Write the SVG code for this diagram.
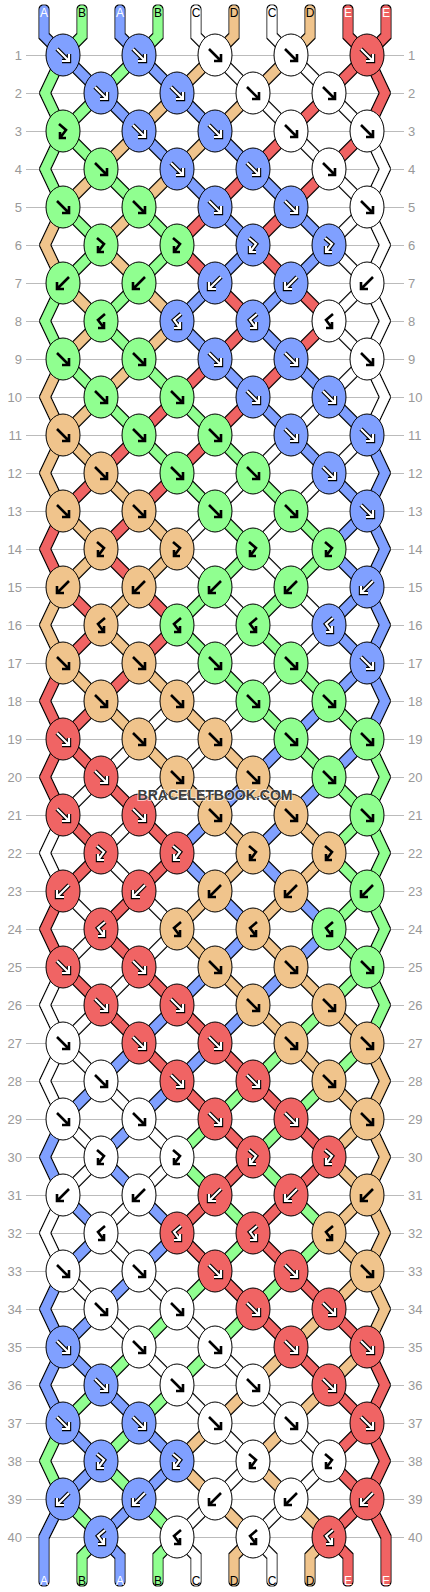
<svg xmlns="http://www.w3.org/2000/svg" xmlns:xlink="http://www.w3.org/1999/xlink" width="430" height="1592" viewBox="0 0 430 1592">
<style>
.ca{stroke:#80a0ff}.cb{stroke:#90ff90}.cc{stroke:#ffffff}.cd{stroke:#f0c48c}.ce{stroke:#f06464}
.na{fill:#80a0ff}.nb{fill:#90ff90}.nc{fill:#ffffff}.nd{fill:#f0c48c}.ne{fill:#f06464}
ellipse{stroke:#000;stroke-width:1}
.ib{fill:none;stroke:#000;stroke-width:2.6;stroke-linejoin:miter}
.io{fill:none;stroke:#000;stroke-width:4.4;stroke-linejoin:miter}
.iw{fill:none;stroke:#fff;stroke-width:2.2;stroke-linejoin:miter}
.ll{font-family:"Liberation Sans",Arial,sans-serif;font-size:13px;fill:#999;text-anchor:end}
.lr{font-family:"Liberation Sans",Arial,sans-serif;font-size:13px;fill:#999;text-anchor:start}
.sl{font-family:"Liberation Sans",Arial,sans-serif;font-size:12px;text-anchor:middle}
.tk{fill:#000}.tw{fill:#fff}
</style>
<defs>
<filter id="ol" filterUnits="userSpaceOnUse" x="0" y="0" width="430" height="1592">
<feMorphology in="SourceAlpha" operator="dilate" radius="1" result="d"/>
<feFlood flood-color="#000"/>
<feComposite in2="d" operator="in" result="o"/>
<feMerge><feMergeNode in="o"/><feMergeNode in="SourceGraphic"/></feMerge>
</filter>
<path id="iF" d="M-6-6L6 6M6-1V6H-1"/>
<path id="iB" d="M6-6L-6 6M-6-1V6H1"/>
<path id="iX" d="M-4-7L3-1L-3 7M-3 1V7H3"/>
<path id="iY" d="M4-7L-3-1L3 7M3 1V7H-3"/>
<g id="wF"><use href="#iF" class="io"/><use href="#iF" class="iw"/></g>
<g id="wB"><use href="#iB" class="io"/><use href="#iB" class="iw"/></g>
<g id="wX"><use href="#iX" class="io"/><use href="#iX" class="iw"/></g>
<g id="wY"><use href="#iY" class="io"/><use href="#iY" class="iw"/></g>
<g id="kF"><use href="#iF" class="ib"/></g>
<g id="kB"><use href="#iB" class="ib"/></g>
<g id="kX"><use href="#iX" class="ib"/></g>
<g id="kY"><use href="#iY" class="ib"/></g>
</defs>
<rect width="430" height="1592" fill="#fff"/>
<g id="grid" stroke="#bbb" stroke-width="1" fill="none">
<path d="M26 55.5H404M26 93.5H404M26 131.5H404M26 169.5H404M26 207.5H404M26 245.5H404M26 283.5H404M26 321.5H404M26 359.5H404M26 397.5H404M26 435.5H404M26 473.5H404M26 511.5H404M26 549.5H404M26 587.5H404M26 625.5H404M26 663.5H404M26 701.5H404M26 739.5H404M26 777.5H404M26 815.5H404M26 853.5H404M26 891.5H404M26 929.5H404M26 967.5H404M26 1005.5H404M26 1043.5H404M26 1081.5H404M26 1119.5H404M26 1157.5H404M26 1195.5H404M26 1233.5H404M26 1271.5H404M26 1309.5H404M26 1347.5H404M26 1385.5H404M26 1423.5H404M26 1461.5H404M26 1499.5H404M26 1537.5H404"/>
</g>
<g id="row-labels">
<text class="ll" x="22" y="59.5">1</text><text class="lr" x="408" y="59.5">1</text>
<text class="ll" x="22" y="97.5">2</text><text class="lr" x="408" y="97.5">2</text>
<text class="ll" x="22" y="135.5">3</text><text class="lr" x="408" y="135.5">3</text>
<text class="ll" x="22" y="173.5">4</text><text class="lr" x="408" y="173.5">4</text>
<text class="ll" x="22" y="211.5">5</text><text class="lr" x="408" y="211.5">5</text>
<text class="ll" x="22" y="249.5">6</text><text class="lr" x="408" y="249.5">6</text>
<text class="ll" x="22" y="287.5">7</text><text class="lr" x="408" y="287.5">7</text>
<text class="ll" x="22" y="325.5">8</text><text class="lr" x="408" y="325.5">8</text>
<text class="ll" x="22" y="363.5">9</text><text class="lr" x="408" y="363.5">9</text>
<text class="ll" x="22" y="401.5">10</text><text class="lr" x="408" y="401.5">10</text>
<text class="ll" x="22" y="439.5">11</text><text class="lr" x="408" y="439.5">11</text>
<text class="ll" x="22" y="477.5">12</text><text class="lr" x="408" y="477.5">12</text>
<text class="ll" x="22" y="515.5">13</text><text class="lr" x="408" y="515.5">13</text>
<text class="ll" x="22" y="553.5">14</text><text class="lr" x="408" y="553.5">14</text>
<text class="ll" x="22" y="591.5">15</text><text class="lr" x="408" y="591.5">15</text>
<text class="ll" x="22" y="629.5">16</text><text class="lr" x="408" y="629.5">16</text>
<text class="ll" x="22" y="667.5">17</text><text class="lr" x="408" y="667.5">17</text>
<text class="ll" x="22" y="705.5">18</text><text class="lr" x="408" y="705.5">18</text>
<text class="ll" x="22" y="743.5">19</text><text class="lr" x="408" y="743.5">19</text>
<text class="ll" x="22" y="781.5">20</text><text class="lr" x="408" y="781.5">20</text>
<text class="ll" x="22" y="819.5">21</text><text class="lr" x="408" y="819.5">21</text>
<text class="ll" x="22" y="857.5">22</text><text class="lr" x="408" y="857.5">22</text>
<text class="ll" x="22" y="895.5">23</text><text class="lr" x="408" y="895.5">23</text>
<text class="ll" x="22" y="933.5">24</text><text class="lr" x="408" y="933.5">24</text>
<text class="ll" x="22" y="971.5">25</text><text class="lr" x="408" y="971.5">25</text>
<text class="ll" x="22" y="1009.5">26</text><text class="lr" x="408" y="1009.5">26</text>
<text class="ll" x="22" y="1047.5">27</text><text class="lr" x="408" y="1047.5">27</text>
<text class="ll" x="22" y="1085.5">28</text><text class="lr" x="408" y="1085.5">28</text>
<text class="ll" x="22" y="1123.5">29</text><text class="lr" x="408" y="1123.5">29</text>
<text class="ll" x="22" y="1161.5">30</text><text class="lr" x="408" y="1161.5">30</text>
<text class="ll" x="22" y="1199.5">31</text><text class="lr" x="408" y="1199.5">31</text>
<text class="ll" x="22" y="1237.5">32</text><text class="lr" x="408" y="1237.5">32</text>
<text class="ll" x="22" y="1275.5">33</text><text class="lr" x="408" y="1275.5">33</text>
<text class="ll" x="22" y="1313.5">34</text><text class="lr" x="408" y="1313.5">34</text>
<text class="ll" x="22" y="1351.5">35</text><text class="lr" x="408" y="1351.5">35</text>
<text class="ll" x="22" y="1389.5">36</text><text class="lr" x="408" y="1389.5">36</text>
<text class="ll" x="22" y="1427.5">37</text><text class="lr" x="408" y="1427.5">37</text>
<text class="ll" x="22" y="1465.5">38</text><text class="lr" x="408" y="1465.5">38</text>
<text class="ll" x="22" y="1503.5">39</text><text class="lr" x="408" y="1503.5">39</text>
<text class="ll" x="22" y="1541.5">40</text><text class="lr" x="408" y="1541.5">40</text>
</g>
<g id="connectors" filter="url(#ol)" fill="none" stroke-width="9" stroke-linecap="round" stroke-linejoin="miter">
<path class="ca" d="M44 10L44 36L63 55"/><path class="cb" d="M82 10L82 36L63 55"/><path class="ca" d="M120 10L120 36L139 55"/><path class="cb" d="M158 10L158 36L139 55"/><path class="cc" d="M196 10L196 36L215 55"/><path class="cd" d="M234 10L234 36L215 55"/><path class="cc" d="M272 10L272 36L291 55"/><path class="cd" d="M310 10L310 36L291 55"/><path class="ce" d="M348 10L348 36L367 55"/><path class="ce" d="M386 10L386 36L367 55"/>
<path class="cb" d="M63 55L45 93L63 131"/><path class="ce" d="M367 55L385 93L367 131"/>
<path class="ca" d="M63 55L101 93"/><path class="cb" d="M139 55L101 93"/><path class="ca" d="M139 55L177 93"/><path class="cd" d="M215 55L177 93"/><path class="cc" d="M215 55L253 93"/><path class="cd" d="M291 55L253 93"/><path class="cc" d="M291 55L329 93"/><path class="ce" d="M367 55L329 93"/>
<path class="cb" d="M101 93L63 131"/><path class="ca" d="M101 93L139 131"/><path class="cd" d="M177 93L139 131"/><path class="ca" d="M177 93L215 131"/><path class="cd" d="M253 93L215 131"/><path class="cc" d="M253 93L291 131"/><path class="ce" d="M329 93L291 131"/><path class="cc" d="M329 93L367 131"/>
<path class="cb" d="M63 131L45 169L63 207"/><path class="cc" d="M367 131L385 169L367 207"/>
<path class="cb" d="M63 131L101 169"/><path class="cd" d="M139 131L101 169"/><path class="ca" d="M139 131L177 169"/><path class="cd" d="M215 131L177 169"/><path class="ca" d="M215 131L253 169"/><path class="ce" d="M291 131L253 169"/><path class="cc" d="M291 131L329 169"/><path class="ce" d="M367 131L329 169"/>
<path class="cd" d="M101 169L63 207"/><path class="cb" d="M101 169L139 207"/><path class="cd" d="M177 169L139 207"/><path class="ca" d="M177 169L215 207"/><path class="ce" d="M253 169L215 207"/><path class="ca" d="M253 169L291 207"/><path class="ce" d="M329 169L291 207"/><path class="cc" d="M329 169L367 207"/>
<path class="cd" d="M63 207L45 245L63 283"/><path class="cc" d="M367 207L385 245L367 283"/>
<path class="cb" d="M63 207L101 245"/><path class="cd" d="M139 207L101 245"/><path class="cb" d="M139 207L177 245"/><path class="ce" d="M215 207L177 245"/><path class="ca" d="M215 207L253 245"/><path class="ce" d="M291 207L253 245"/><path class="ca" d="M291 207L329 245"/><path class="cc" d="M367 207L329 245"/>
<path class="cb" d="M101 245L63 283"/><path class="cd" d="M101 245L139 283"/><path class="cb" d="M177 245L139 283"/><path class="ce" d="M177 245L215 283"/><path class="ca" d="M253 245L215 283"/><path class="ce" d="M253 245L291 283"/><path class="ca" d="M329 245L291 283"/><path class="cc" d="M329 245L367 283"/>
<path class="cb" d="M63 283L45 321L63 359"/><path class="cc" d="M367 283L385 321L367 359"/>
<path class="cd" d="M63 283L101 321"/><path class="cb" d="M139 283L101 321"/><path class="cd" d="M139 283L177 321"/><path class="ca" d="M215 283L177 321"/><path class="ce" d="M215 283L253 321"/><path class="ca" d="M291 283L253 321"/><path class="ce" d="M291 283L329 321"/><path class="cc" d="M367 283L329 321"/>
<path class="cd" d="M101 321L63 359"/><path class="cb" d="M101 321L139 359"/><path class="cd" d="M177 321L139 359"/><path class="ca" d="M177 321L215 359"/><path class="ce" d="M253 321L215 359"/><path class="ca" d="M253 321L291 359"/><path class="ce" d="M329 321L291 359"/><path class="cc" d="M329 321L367 359"/>
<path class="cd" d="M63 359L45 397L63 435"/><path class="cc" d="M367 359L385 397L367 435"/>
<path class="cb" d="M63 359L101 397"/><path class="cd" d="M139 359L101 397"/><path class="cb" d="M139 359L177 397"/><path class="ce" d="M215 359L177 397"/><path class="ca" d="M215 359L253 397"/><path class="ce" d="M291 359L253 397"/><path class="ca" d="M291 359L329 397"/><path class="cc" d="M367 359L329 397"/>
<path class="cd" d="M101 397L63 435"/><path class="cb" d="M101 397L139 435"/><path class="ce" d="M177 397L139 435"/><path class="cb" d="M177 397L215 435"/><path class="ce" d="M253 397L215 435"/><path class="ca" d="M253 397L291 435"/><path class="cc" d="M329 397L291 435"/><path class="ca" d="M329 397L367 435"/>
<path class="cd" d="M63 435L45 473L63 511"/><path class="ca" d="M367 435L385 473L367 511"/>
<path class="cd" d="M63 435L101 473"/><path class="ce" d="M139 435L101 473"/><path class="cb" d="M139 435L177 473"/><path class="ce" d="M215 435L177 473"/><path class="cb" d="M215 435L253 473"/><path class="cc" d="M291 435L253 473"/><path class="ca" d="M291 435L329 473"/><path class="cc" d="M367 435L329 473"/>
<path class="ce" d="M101 473L63 511"/><path class="cd" d="M101 473L139 511"/><path class="ce" d="M177 473L139 511"/><path class="cb" d="M177 473L215 511"/><path class="cc" d="M253 473L215 511"/><path class="cb" d="M253 473L291 511"/><path class="cc" d="M329 473L291 511"/><path class="ca" d="M329 473L367 511"/>
<path class="ce" d="M63 511L45 549L63 587"/><path class="ca" d="M367 511L385 549L367 587"/>
<path class="cd" d="M63 511L101 549"/><path class="ce" d="M139 511L101 549"/><path class="cd" d="M139 511L177 549"/><path class="cc" d="M215 511L177 549"/><path class="cb" d="M215 511L253 549"/><path class="cc" d="M291 511L253 549"/><path class="cb" d="M291 511L329 549"/><path class="ca" d="M367 511L329 549"/>
<path class="cd" d="M101 549L63 587"/><path class="ce" d="M101 549L139 587"/><path class="cd" d="M177 549L139 587"/><path class="cc" d="M177 549L215 587"/><path class="cb" d="M253 549L215 587"/><path class="cc" d="M253 549L291 587"/><path class="cb" d="M329 549L291 587"/><path class="ca" d="M329 549L367 587"/>
<path class="cd" d="M63 587L45 625L63 663"/><path class="ca" d="M367 587L385 625L367 663"/>
<path class="ce" d="M63 587L101 625"/><path class="cd" d="M139 587L101 625"/><path class="ce" d="M139 587L177 625"/><path class="cb" d="M215 587L177 625"/><path class="cc" d="M215 587L253 625"/><path class="cb" d="M291 587L253 625"/><path class="cc" d="M291 587L329 625"/><path class="ca" d="M367 587L329 625"/>
<path class="ce" d="M101 625L63 663"/><path class="cd" d="M101 625L139 663"/><path class="ce" d="M177 625L139 663"/><path class="cb" d="M177 625L215 663"/><path class="cc" d="M253 625L215 663"/><path class="cb" d="M253 625L291 663"/><path class="cc" d="M329 625L291 663"/><path class="ca" d="M329 625L367 663"/>
<path class="ce" d="M63 663L45 701L63 739"/><path class="ca" d="M367 663L385 701L367 739"/>
<path class="cd" d="M63 663L101 701"/><path class="ce" d="M139 663L101 701"/><path class="cd" d="M139 663L177 701"/><path class="cc" d="M215 663L177 701"/><path class="cb" d="M215 663L253 701"/><path class="cc" d="M291 663L253 701"/><path class="cb" d="M291 663L329 701"/><path class="ca" d="M367 663L329 701"/>
<path class="ce" d="M101 701L63 739"/><path class="cd" d="M101 701L139 739"/><path class="cc" d="M177 701L139 739"/><path class="cd" d="M177 701L215 739"/><path class="cc" d="M253 701L215 739"/><path class="cb" d="M253 701L291 739"/><path class="ca" d="M329 701L291 739"/><path class="cb" d="M329 701L367 739"/>
<path class="ce" d="M63 739L45 777L63 815"/><path class="cb" d="M367 739L385 777L367 815"/>
<path class="ce" d="M63 739L101 777"/><path class="cc" d="M139 739L101 777"/><path class="cd" d="M139 739L177 777"/><path class="cc" d="M215 739L177 777"/><path class="cd" d="M215 739L253 777"/><path class="ca" d="M291 739L253 777"/><path class="cb" d="M291 739L329 777"/><path class="ca" d="M367 739L329 777"/>
<path class="cc" d="M101 777L63 815"/><path class="ce" d="M101 777L139 815"/><path class="cc" d="M177 777L139 815"/><path class="cd" d="M177 777L215 815"/><path class="ca" d="M253 777L215 815"/><path class="cd" d="M253 777L291 815"/><path class="ca" d="M329 777L291 815"/><path class="cb" d="M329 777L367 815"/>
<path class="cc" d="M63 815L45 853L63 891"/><path class="cb" d="M367 815L385 853L367 891"/>
<path class="ce" d="M63 815L101 853"/><path class="cc" d="M139 815L101 853"/><path class="ce" d="M139 815L177 853"/><path class="ca" d="M215 815L177 853"/><path class="cd" d="M215 815L253 853"/><path class="ca" d="M291 815L253 853"/><path class="cd" d="M291 815L329 853"/><path class="cb" d="M367 815L329 853"/>
<path class="ce" d="M101 853L63 891"/><path class="cc" d="M101 853L139 891"/><path class="ce" d="M177 853L139 891"/><path class="ca" d="M177 853L215 891"/><path class="cd" d="M253 853L215 891"/><path class="ca" d="M253 853L291 891"/><path class="cd" d="M329 853L291 891"/><path class="cb" d="M329 853L367 891"/>
<path class="ce" d="M63 891L45 929L63 967"/><path class="cb" d="M367 891L385 929L367 967"/>
<path class="cc" d="M63 891L101 929"/><path class="ce" d="M139 891L101 929"/><path class="cc" d="M139 891L177 929"/><path class="cd" d="M215 891L177 929"/><path class="ca" d="M215 891L253 929"/><path class="cd" d="M291 891L253 929"/><path class="ca" d="M291 891L329 929"/><path class="cb" d="M367 891L329 929"/>
<path class="cc" d="M101 929L63 967"/><path class="ce" d="M101 929L139 967"/><path class="cc" d="M177 929L139 967"/><path class="cd" d="M177 929L215 967"/><path class="ca" d="M253 929L215 967"/><path class="cd" d="M253 929L291 967"/><path class="ca" d="M329 929L291 967"/><path class="cb" d="M329 929L367 967"/>
<path class="cc" d="M63 967L45 1005L63 1043"/><path class="cb" d="M367 967L385 1005L367 1043"/>
<path class="ce" d="M63 967L101 1005"/><path class="cc" d="M139 967L101 1005"/><path class="ce" d="M139 967L177 1005"/><path class="ca" d="M215 967L177 1005"/><path class="cd" d="M215 967L253 1005"/><path class="ca" d="M291 967L253 1005"/><path class="cd" d="M291 967L329 1005"/><path class="cb" d="M367 967L329 1005"/>
<path class="cc" d="M101 1005L63 1043"/><path class="ce" d="M101 1005L139 1043"/><path class="ca" d="M177 1005L139 1043"/><path class="ce" d="M177 1005L215 1043"/><path class="ca" d="M253 1005L215 1043"/><path class="cd" d="M253 1005L291 1043"/><path class="cb" d="M329 1005L291 1043"/><path class="cd" d="M329 1005L367 1043"/>
<path class="cc" d="M63 1043L45 1081L63 1119"/><path class="cd" d="M367 1043L385 1081L367 1119"/>
<path class="cc" d="M63 1043L101 1081"/><path class="ca" d="M139 1043L101 1081"/><path class="ce" d="M139 1043L177 1081"/><path class="ca" d="M215 1043L177 1081"/><path class="ce" d="M215 1043L253 1081"/><path class="cb" d="M291 1043L253 1081"/><path class="cd" d="M291 1043L329 1081"/><path class="cb" d="M367 1043L329 1081"/>
<path class="ca" d="M101 1081L63 1119"/><path class="cc" d="M101 1081L139 1119"/><path class="ca" d="M177 1081L139 1119"/><path class="ce" d="M177 1081L215 1119"/><path class="cb" d="M253 1081L215 1119"/><path class="ce" d="M253 1081L291 1119"/><path class="cb" d="M329 1081L291 1119"/><path class="cd" d="M329 1081L367 1119"/>
<path class="ca" d="M63 1119L45 1157L63 1195"/><path class="cd" d="M367 1119L385 1157L367 1195"/>
<path class="cc" d="M63 1119L101 1157"/><path class="ca" d="M139 1119L101 1157"/><path class="cc" d="M139 1119L177 1157"/><path class="cb" d="M215 1119L177 1157"/><path class="ce" d="M215 1119L253 1157"/><path class="cb" d="M291 1119L253 1157"/><path class="ce" d="M291 1119L329 1157"/><path class="cd" d="M367 1119L329 1157"/>
<path class="cc" d="M101 1157L63 1195"/><path class="ca" d="M101 1157L139 1195"/><path class="cc" d="M177 1157L139 1195"/><path class="cb" d="M177 1157L215 1195"/><path class="ce" d="M253 1157L215 1195"/><path class="cb" d="M253 1157L291 1195"/><path class="ce" d="M329 1157L291 1195"/><path class="cd" d="M329 1157L367 1195"/>
<path class="cc" d="M63 1195L45 1233L63 1271"/><path class="cd" d="M367 1195L385 1233L367 1271"/>
<path class="ca" d="M63 1195L101 1233"/><path class="cc" d="M139 1195L101 1233"/><path class="ca" d="M139 1195L177 1233"/><path class="ce" d="M215 1195L177 1233"/><path class="cb" d="M215 1195L253 1233"/><path class="ce" d="M291 1195L253 1233"/><path class="cb" d="M291 1195L329 1233"/><path class="cd" d="M367 1195L329 1233"/>
<path class="ca" d="M101 1233L63 1271"/><path class="cc" d="M101 1233L139 1271"/><path class="ca" d="M177 1233L139 1271"/><path class="ce" d="M177 1233L215 1271"/><path class="cb" d="M253 1233L215 1271"/><path class="ce" d="M253 1233L291 1271"/><path class="cb" d="M329 1233L291 1271"/><path class="cd" d="M329 1233L367 1271"/>
<path class="ca" d="M63 1271L45 1309L63 1347"/><path class="cd" d="M367 1271L385 1309L367 1347"/>
<path class="cc" d="M63 1271L101 1309"/><path class="ca" d="M139 1271L101 1309"/><path class="cc" d="M139 1271L177 1309"/><path class="cb" d="M215 1271L177 1309"/><path class="ce" d="M215 1271L253 1309"/><path class="cb" d="M291 1271L253 1309"/><path class="ce" d="M291 1271L329 1309"/><path class="cd" d="M367 1271L329 1309"/>
<path class="ca" d="M101 1309L63 1347"/><path class="cc" d="M101 1309L139 1347"/><path class="cb" d="M177 1309L139 1347"/><path class="cc" d="M177 1309L215 1347"/><path class="cb" d="M253 1309L215 1347"/><path class="ce" d="M253 1309L291 1347"/><path class="cd" d="M329 1309L291 1347"/><path class="ce" d="M329 1309L367 1347"/>
<path class="ca" d="M63 1347L45 1385L63 1423"/><path class="ce" d="M367 1347L385 1385L367 1423"/>
<path class="ca" d="M63 1347L101 1385"/><path class="cb" d="M139 1347L101 1385"/><path class="cc" d="M139 1347L177 1385"/><path class="cb" d="M215 1347L177 1385"/><path class="cc" d="M215 1347L253 1385"/><path class="cd" d="M291 1347L253 1385"/><path class="ce" d="M291 1347L329 1385"/><path class="cd" d="M367 1347L329 1385"/>
<path class="cb" d="M101 1385L63 1423"/><path class="ca" d="M101 1385L139 1423"/><path class="cb" d="M177 1385L139 1423"/><path class="cc" d="M177 1385L215 1423"/><path class="cd" d="M253 1385L215 1423"/><path class="cc" d="M253 1385L291 1423"/><path class="cd" d="M329 1385L291 1423"/><path class="ce" d="M329 1385L367 1423"/>
<path class="cb" d="M63 1423L45 1461L63 1499"/><path class="ce" d="M367 1423L385 1461L367 1499"/>
<path class="ca" d="M63 1423L101 1461"/><path class="cb" d="M139 1423L101 1461"/><path class="ca" d="M139 1423L177 1461"/><path class="cd" d="M215 1423L177 1461"/><path class="cc" d="M215 1423L253 1461"/><path class="cd" d="M291 1423L253 1461"/><path class="cc" d="M291 1423L329 1461"/><path class="ce" d="M367 1423L329 1461"/>
<path class="ca" d="M101 1461L63 1499"/><path class="cb" d="M101 1461L139 1499"/><path class="ca" d="M177 1461L139 1499"/><path class="cd" d="M177 1461L215 1499"/><path class="cc" d="M253 1461L215 1499"/><path class="cd" d="M253 1461L291 1499"/><path class="cc" d="M329 1461L291 1499"/><path class="ce" d="M329 1461L367 1499"/>
<path class="ca" d="M63 1499L44 1537L44 1581"/><path class="ce" d="M367 1499L386 1537L386 1581"/>
<path class="cb" d="M63 1499L101 1537"/><path class="ca" d="M139 1499L101 1537"/><path class="cb" d="M139 1499L177 1537"/><path class="cc" d="M215 1499L177 1537"/><path class="cd" d="M215 1499L253 1537"/><path class="cc" d="M291 1499L253 1537"/><path class="cd" d="M291 1499L329 1537"/><path class="ce" d="M367 1499L329 1537"/>
<path class="cb" d="M101 1537L82 1556L82 1581"/><path class="ca" d="M101 1537L120 1556L120 1581"/><path class="cb" d="M177 1537L158 1556L158 1581"/><path class="cc" d="M177 1537L196 1556L196 1581"/><path class="cd" d="M253 1537L234 1556L234 1581"/><path class="cc" d="M253 1537L272 1556L272 1581"/><path class="cd" d="M329 1537L310 1556L310 1581"/><path class="ce" d="M329 1537L348 1556L348 1581"/>
</g>
<g id="string-labels">
<text class="sl tw" x="44" y="16.5">A</text><text class="sl tk" x="82" y="16.5">B</text><text class="sl tw" x="120" y="16.5">A</text><text class="sl tk" x="158" y="16.5">B</text><text class="sl tk" x="196" y="16.5">C</text><text class="sl tk" x="234" y="16.5">D</text><text class="sl tk" x="272" y="16.5">C</text><text class="sl tk" x="310" y="16.5">D</text><text class="sl tw" x="348" y="16.5">E</text><text class="sl tw" x="386" y="16.5">E</text>
<text class="sl tw" x="44" y="1585">A</text><text class="sl tk" x="82" y="1585">B</text><text class="sl tw" x="120" y="1585">A</text><text class="sl tk" x="158" y="1585">B</text><text class="sl tk" x="196" y="1585">C</text><text class="sl tk" x="234" y="1585">D</text><text class="sl tk" x="272" y="1585">C</text><text class="sl tk" x="310" y="1585">D</text><text class="sl tw" x="348" y="1585">E</text><text class="sl tw" x="386" y="1585">E</text>
</g>
<g id="knots">
<g id="k1-1" transform="translate(63 55)"><ellipse class="na" rx="17" ry="21"/><use href="#wF"/></g>
<g id="k1-2" transform="translate(139 55)"><ellipse class="na" rx="17" ry="21"/><use href="#wF"/></g>
<g id="k1-3" transform="translate(215 55)"><ellipse class="nc" rx="17" ry="21"/><use href="#kF"/></g>
<g id="k1-4" transform="translate(291 55)"><ellipse class="nc" rx="17" ry="21"/><use href="#kF"/></g>
<g id="k1-5" transform="translate(367 55)"><ellipse class="ne" rx="17" ry="21"/><use href="#wF"/></g>
<g id="k2-1" transform="translate(101 93)"><ellipse class="na" rx="17" ry="21"/><use href="#wF"/></g>
<g id="k2-2" transform="translate(177 93)"><ellipse class="na" rx="17" ry="21"/><use href="#wF"/></g>
<g id="k2-3" transform="translate(253 93)"><ellipse class="nc" rx="17" ry="21"/><use href="#kF"/></g>
<g id="k2-4" transform="translate(329 93)"><ellipse class="nc" rx="17" ry="21"/><use href="#kF"/></g>
<g id="k3-1" transform="translate(63 131)"><ellipse class="nb" rx="17" ry="21"/><use href="#kX"/></g>
<g id="k3-2" transform="translate(139 131)"><ellipse class="na" rx="17" ry="21"/><use href="#wF"/></g>
<g id="k3-3" transform="translate(215 131)"><ellipse class="na" rx="17" ry="21"/><use href="#wF"/></g>
<g id="k3-4" transform="translate(291 131)"><ellipse class="nc" rx="17" ry="21"/><use href="#kF"/></g>
<g id="k3-5" transform="translate(367 131)"><ellipse class="nc" rx="17" ry="21"/><use href="#kF"/></g>
<g id="k4-1" transform="translate(101 169)"><ellipse class="nb" rx="17" ry="21"/><use href="#kF"/></g>
<g id="k4-2" transform="translate(177 169)"><ellipse class="na" rx="17" ry="21"/><use href="#wF"/></g>
<g id="k4-3" transform="translate(253 169)"><ellipse class="na" rx="17" ry="21"/><use href="#wF"/></g>
<g id="k4-4" transform="translate(329 169)"><ellipse class="nc" rx="17" ry="21"/><use href="#kF"/></g>
<g id="k5-1" transform="translate(63 207)"><ellipse class="nb" rx="17" ry="21"/><use href="#kF"/></g>
<g id="k5-2" transform="translate(139 207)"><ellipse class="nb" rx="17" ry="21"/><use href="#kF"/></g>
<g id="k5-3" transform="translate(215 207)"><ellipse class="na" rx="17" ry="21"/><use href="#wF"/></g>
<g id="k5-4" transform="translate(291 207)"><ellipse class="na" rx="17" ry="21"/><use href="#wF"/></g>
<g id="k5-5" transform="translate(367 207)"><ellipse class="nc" rx="17" ry="21"/><use href="#kF"/></g>
<g id="k6-1" transform="translate(101 245)"><ellipse class="nb" rx="17" ry="21"/><use href="#kX"/></g>
<g id="k6-2" transform="translate(177 245)"><ellipse class="nb" rx="17" ry="21"/><use href="#kX"/></g>
<g id="k6-3" transform="translate(253 245)"><ellipse class="na" rx="17" ry="21"/><use href="#wX"/></g>
<g id="k6-4" transform="translate(329 245)"><ellipse class="na" rx="17" ry="21"/><use href="#wX"/></g>
<g id="k7-1" transform="translate(63 283)"><ellipse class="nb" rx="17" ry="21"/><use href="#kB"/></g>
<g id="k7-2" transform="translate(139 283)"><ellipse class="nb" rx="17" ry="21"/><use href="#kB"/></g>
<g id="k7-3" transform="translate(215 283)"><ellipse class="na" rx="17" ry="21"/><use href="#wB"/></g>
<g id="k7-4" transform="translate(291 283)"><ellipse class="na" rx="17" ry="21"/><use href="#wB"/></g>
<g id="k7-5" transform="translate(367 283)"><ellipse class="nc" rx="17" ry="21"/><use href="#kB"/></g>
<g id="k8-1" transform="translate(101 321)"><ellipse class="nb" rx="17" ry="21"/><use href="#kY"/></g>
<g id="k8-2" transform="translate(177 321)"><ellipse class="na" rx="17" ry="21"/><use href="#wY"/></g>
<g id="k8-3" transform="translate(253 321)"><ellipse class="na" rx="17" ry="21"/><use href="#wY"/></g>
<g id="k8-4" transform="translate(329 321)"><ellipse class="nc" rx="17" ry="21"/><use href="#kY"/></g>
<g id="k9-1" transform="translate(63 359)"><ellipse class="nb" rx="17" ry="21"/><use href="#kF"/></g>
<g id="k9-2" transform="translate(139 359)"><ellipse class="nb" rx="17" ry="21"/><use href="#kF"/></g>
<g id="k9-3" transform="translate(215 359)"><ellipse class="na" rx="17" ry="21"/><use href="#wF"/></g>
<g id="k9-4" transform="translate(291 359)"><ellipse class="na" rx="17" ry="21"/><use href="#wF"/></g>
<g id="k9-5" transform="translate(367 359)"><ellipse class="nc" rx="17" ry="21"/><use href="#kF"/></g>
<g id="k10-1" transform="translate(101 397)"><ellipse class="nb" rx="17" ry="21"/><use href="#kF"/></g>
<g id="k10-2" transform="translate(177 397)"><ellipse class="nb" rx="17" ry="21"/><use href="#kF"/></g>
<g id="k10-3" transform="translate(253 397)"><ellipse class="na" rx="17" ry="21"/><use href="#wF"/></g>
<g id="k10-4" transform="translate(329 397)"><ellipse class="na" rx="17" ry="21"/><use href="#wF"/></g>
<g id="k11-1" transform="translate(63 435)"><ellipse class="nd" rx="17" ry="21"/><use href="#kF"/></g>
<g id="k11-2" transform="translate(139 435)"><ellipse class="nb" rx="17" ry="21"/><use href="#kF"/></g>
<g id="k11-3" transform="translate(215 435)"><ellipse class="nb" rx="17" ry="21"/><use href="#kF"/></g>
<g id="k11-4" transform="translate(291 435)"><ellipse class="na" rx="17" ry="21"/><use href="#wF"/></g>
<g id="k11-5" transform="translate(367 435)"><ellipse class="na" rx="17" ry="21"/><use href="#wF"/></g>
<g id="k12-1" transform="translate(101 473)"><ellipse class="nd" rx="17" ry="21"/><use href="#kF"/></g>
<g id="k12-2" transform="translate(177 473)"><ellipse class="nb" rx="17" ry="21"/><use href="#kF"/></g>
<g id="k12-3" transform="translate(253 473)"><ellipse class="nb" rx="17" ry="21"/><use href="#kF"/></g>
<g id="k12-4" transform="translate(329 473)"><ellipse class="na" rx="17" ry="21"/><use href="#wF"/></g>
<g id="k13-1" transform="translate(63 511)"><ellipse class="nd" rx="17" ry="21"/><use href="#kF"/></g>
<g id="k13-2" transform="translate(139 511)"><ellipse class="nd" rx="17" ry="21"/><use href="#kF"/></g>
<g id="k13-3" transform="translate(215 511)"><ellipse class="nb" rx="17" ry="21"/><use href="#kF"/></g>
<g id="k13-4" transform="translate(291 511)"><ellipse class="nb" rx="17" ry="21"/><use href="#kF"/></g>
<g id="k13-5" transform="translate(367 511)"><ellipse class="na" rx="17" ry="21"/><use href="#wF"/></g>
<g id="k14-1" transform="translate(101 549)"><ellipse class="nd" rx="17" ry="21"/><use href="#kX"/></g>
<g id="k14-2" transform="translate(177 549)"><ellipse class="nd" rx="17" ry="21"/><use href="#kX"/></g>
<g id="k14-3" transform="translate(253 549)"><ellipse class="nb" rx="17" ry="21"/><use href="#kX"/></g>
<g id="k14-4" transform="translate(329 549)"><ellipse class="nb" rx="17" ry="21"/><use href="#kX"/></g>
<g id="k15-1" transform="translate(63 587)"><ellipse class="nd" rx="17" ry="21"/><use href="#kB"/></g>
<g id="k15-2" transform="translate(139 587)"><ellipse class="nd" rx="17" ry="21"/><use href="#kB"/></g>
<g id="k15-3" transform="translate(215 587)"><ellipse class="nb" rx="17" ry="21"/><use href="#kB"/></g>
<g id="k15-4" transform="translate(291 587)"><ellipse class="nb" rx="17" ry="21"/><use href="#kB"/></g>
<g id="k15-5" transform="translate(367 587)"><ellipse class="na" rx="17" ry="21"/><use href="#wB"/></g>
<g id="k16-1" transform="translate(101 625)"><ellipse class="nd" rx="17" ry="21"/><use href="#kY"/></g>
<g id="k16-2" transform="translate(177 625)"><ellipse class="nb" rx="17" ry="21"/><use href="#kY"/></g>
<g id="k16-3" transform="translate(253 625)"><ellipse class="nb" rx="17" ry="21"/><use href="#kY"/></g>
<g id="k16-4" transform="translate(329 625)"><ellipse class="na" rx="17" ry="21"/><use href="#wY"/></g>
<g id="k17-1" transform="translate(63 663)"><ellipse class="nd" rx="17" ry="21"/><use href="#kF"/></g>
<g id="k17-2" transform="translate(139 663)"><ellipse class="nd" rx="17" ry="21"/><use href="#kF"/></g>
<g id="k17-3" transform="translate(215 663)"><ellipse class="nb" rx="17" ry="21"/><use href="#kF"/></g>
<g id="k17-4" transform="translate(291 663)"><ellipse class="nb" rx="17" ry="21"/><use href="#kF"/></g>
<g id="k17-5" transform="translate(367 663)"><ellipse class="na" rx="17" ry="21"/><use href="#wF"/></g>
<g id="k18-1" transform="translate(101 701)"><ellipse class="nd" rx="17" ry="21"/><use href="#kF"/></g>
<g id="k18-2" transform="translate(177 701)"><ellipse class="nd" rx="17" ry="21"/><use href="#kF"/></g>
<g id="k18-3" transform="translate(253 701)"><ellipse class="nb" rx="17" ry="21"/><use href="#kF"/></g>
<g id="k18-4" transform="translate(329 701)"><ellipse class="nb" rx="17" ry="21"/><use href="#kF"/></g>
<g id="k19-1" transform="translate(63 739)"><ellipse class="ne" rx="17" ry="21"/><use href="#wF"/></g>
<g id="k19-2" transform="translate(139 739)"><ellipse class="nd" rx="17" ry="21"/><use href="#kF"/></g>
<g id="k19-3" transform="translate(215 739)"><ellipse class="nd" rx="17" ry="21"/><use href="#kF"/></g>
<g id="k19-4" transform="translate(291 739)"><ellipse class="nb" rx="17" ry="21"/><use href="#kF"/></g>
<g id="k19-5" transform="translate(367 739)"><ellipse class="nb" rx="17" ry="21"/><use href="#kF"/></g>
<g id="k20-1" transform="translate(101 777)"><ellipse class="ne" rx="17" ry="21"/><use href="#wF"/></g>
<g id="k20-2" transform="translate(177 777)"><ellipse class="nd" rx="17" ry="21"/><use href="#kF"/></g>
<g id="k20-3" transform="translate(253 777)"><ellipse class="nd" rx="17" ry="21"/><use href="#kF"/></g>
<g id="k20-4" transform="translate(329 777)"><ellipse class="nb" rx="17" ry="21"/><use href="#kF"/></g>
<g id="k21-1" transform="translate(63 815)"><ellipse class="ne" rx="17" ry="21"/><use href="#wF"/></g>
<g id="k21-2" transform="translate(139 815)"><ellipse class="ne" rx="17" ry="21"/><use href="#wF"/></g>
<g id="k21-3" transform="translate(215 815)"><ellipse class="nd" rx="17" ry="21"/><use href="#kF"/></g>
<g id="k21-4" transform="translate(291 815)"><ellipse class="nd" rx="17" ry="21"/><use href="#kF"/></g>
<g id="k21-5" transform="translate(367 815)"><ellipse class="nb" rx="17" ry="21"/><use href="#kF"/></g>
<g id="k22-1" transform="translate(101 853)"><ellipse class="ne" rx="17" ry="21"/><use href="#wX"/></g>
<g id="k22-2" transform="translate(177 853)"><ellipse class="ne" rx="17" ry="21"/><use href="#wX"/></g>
<g id="k22-3" transform="translate(253 853)"><ellipse class="nd" rx="17" ry="21"/><use href="#kX"/></g>
<g id="k22-4" transform="translate(329 853)"><ellipse class="nd" rx="17" ry="21"/><use href="#kX"/></g>
<g id="k23-1" transform="translate(63 891)"><ellipse class="ne" rx="17" ry="21"/><use href="#wB"/></g>
<g id="k23-2" transform="translate(139 891)"><ellipse class="ne" rx="17" ry="21"/><use href="#wB"/></g>
<g id="k23-3" transform="translate(215 891)"><ellipse class="nd" rx="17" ry="21"/><use href="#kB"/></g>
<g id="k23-4" transform="translate(291 891)"><ellipse class="nd" rx="17" ry="21"/><use href="#kB"/></g>
<g id="k23-5" transform="translate(367 891)"><ellipse class="nb" rx="17" ry="21"/><use href="#kB"/></g>
<g id="k24-1" transform="translate(101 929)"><ellipse class="ne" rx="17" ry="21"/><use href="#wY"/></g>
<g id="k24-2" transform="translate(177 929)"><ellipse class="nd" rx="17" ry="21"/><use href="#kY"/></g>
<g id="k24-3" transform="translate(253 929)"><ellipse class="nd" rx="17" ry="21"/><use href="#kY"/></g>
<g id="k24-4" transform="translate(329 929)"><ellipse class="nb" rx="17" ry="21"/><use href="#kY"/></g>
<g id="k25-1" transform="translate(63 967)"><ellipse class="ne" rx="17" ry="21"/><use href="#wF"/></g>
<g id="k25-2" transform="translate(139 967)"><ellipse class="ne" rx="17" ry="21"/><use href="#wF"/></g>
<g id="k25-3" transform="translate(215 967)"><ellipse class="nd" rx="17" ry="21"/><use href="#kF"/></g>
<g id="k25-4" transform="translate(291 967)"><ellipse class="nd" rx="17" ry="21"/><use href="#kF"/></g>
<g id="k25-5" transform="translate(367 967)"><ellipse class="nb" rx="17" ry="21"/><use href="#kF"/></g>
<g id="k26-1" transform="translate(101 1005)"><ellipse class="ne" rx="17" ry="21"/><use href="#wF"/></g>
<g id="k26-2" transform="translate(177 1005)"><ellipse class="ne" rx="17" ry="21"/><use href="#wF"/></g>
<g id="k26-3" transform="translate(253 1005)"><ellipse class="nd" rx="17" ry="21"/><use href="#kF"/></g>
<g id="k26-4" transform="translate(329 1005)"><ellipse class="nd" rx="17" ry="21"/><use href="#kF"/></g>
<g id="k27-1" transform="translate(63 1043)"><ellipse class="nc" rx="17" ry="21"/><use href="#kF"/></g>
<g id="k27-2" transform="translate(139 1043)"><ellipse class="ne" rx="17" ry="21"/><use href="#wF"/></g>
<g id="k27-3" transform="translate(215 1043)"><ellipse class="ne" rx="17" ry="21"/><use href="#wF"/></g>
<g id="k27-4" transform="translate(291 1043)"><ellipse class="nd" rx="17" ry="21"/><use href="#kF"/></g>
<g id="k27-5" transform="translate(367 1043)"><ellipse class="nd" rx="17" ry="21"/><use href="#kF"/></g>
<g id="k28-1" transform="translate(101 1081)"><ellipse class="nc" rx="17" ry="21"/><use href="#kF"/></g>
<g id="k28-2" transform="translate(177 1081)"><ellipse class="ne" rx="17" ry="21"/><use href="#wF"/></g>
<g id="k28-3" transform="translate(253 1081)"><ellipse class="ne" rx="17" ry="21"/><use href="#wF"/></g>
<g id="k28-4" transform="translate(329 1081)"><ellipse class="nd" rx="17" ry="21"/><use href="#kF"/></g>
<g id="k29-1" transform="translate(63 1119)"><ellipse class="nc" rx="17" ry="21"/><use href="#kF"/></g>
<g id="k29-2" transform="translate(139 1119)"><ellipse class="nc" rx="17" ry="21"/><use href="#kF"/></g>
<g id="k29-3" transform="translate(215 1119)"><ellipse class="ne" rx="17" ry="21"/><use href="#wF"/></g>
<g id="k29-4" transform="translate(291 1119)"><ellipse class="ne" rx="17" ry="21"/><use href="#wF"/></g>
<g id="k29-5" transform="translate(367 1119)"><ellipse class="nd" rx="17" ry="21"/><use href="#kF"/></g>
<g id="k30-1" transform="translate(101 1157)"><ellipse class="nc" rx="17" ry="21"/><use href="#kX"/></g>
<g id="k30-2" transform="translate(177 1157)"><ellipse class="nc" rx="17" ry="21"/><use href="#kX"/></g>
<g id="k30-3" transform="translate(253 1157)"><ellipse class="ne" rx="17" ry="21"/><use href="#wX"/></g>
<g id="k30-4" transform="translate(329 1157)"><ellipse class="ne" rx="17" ry="21"/><use href="#wX"/></g>
<g id="k31-1" transform="translate(63 1195)"><ellipse class="nc" rx="17" ry="21"/><use href="#kB"/></g>
<g id="k31-2" transform="translate(139 1195)"><ellipse class="nc" rx="17" ry="21"/><use href="#kB"/></g>
<g id="k31-3" transform="translate(215 1195)"><ellipse class="ne" rx="17" ry="21"/><use href="#wB"/></g>
<g id="k31-4" transform="translate(291 1195)"><ellipse class="ne" rx="17" ry="21"/><use href="#wB"/></g>
<g id="k31-5" transform="translate(367 1195)"><ellipse class="nd" rx="17" ry="21"/><use href="#kB"/></g>
<g id="k32-1" transform="translate(101 1233)"><ellipse class="nc" rx="17" ry="21"/><use href="#kY"/></g>
<g id="k32-2" transform="translate(177 1233)"><ellipse class="ne" rx="17" ry="21"/><use href="#wY"/></g>
<g id="k32-3" transform="translate(253 1233)"><ellipse class="ne" rx="17" ry="21"/><use href="#wY"/></g>
<g id="k32-4" transform="translate(329 1233)"><ellipse class="nd" rx="17" ry="21"/><use href="#kY"/></g>
<g id="k33-1" transform="translate(63 1271)"><ellipse class="nc" rx="17" ry="21"/><use href="#kF"/></g>
<g id="k33-2" transform="translate(139 1271)"><ellipse class="nc" rx="17" ry="21"/><use href="#kF"/></g>
<g id="k33-3" transform="translate(215 1271)"><ellipse class="ne" rx="17" ry="21"/><use href="#wF"/></g>
<g id="k33-4" transform="translate(291 1271)"><ellipse class="ne" rx="17" ry="21"/><use href="#wF"/></g>
<g id="k33-5" transform="translate(367 1271)"><ellipse class="nd" rx="17" ry="21"/><use href="#kF"/></g>
<g id="k34-1" transform="translate(101 1309)"><ellipse class="nc" rx="17" ry="21"/><use href="#kF"/></g>
<g id="k34-2" transform="translate(177 1309)"><ellipse class="nc" rx="17" ry="21"/><use href="#kF"/></g>
<g id="k34-3" transform="translate(253 1309)"><ellipse class="ne" rx="17" ry="21"/><use href="#wF"/></g>
<g id="k34-4" transform="translate(329 1309)"><ellipse class="ne" rx="17" ry="21"/><use href="#wF"/></g>
<g id="k35-1" transform="translate(63 1347)"><ellipse class="na" rx="17" ry="21"/><use href="#wF"/></g>
<g id="k35-2" transform="translate(139 1347)"><ellipse class="nc" rx="17" ry="21"/><use href="#kF"/></g>
<g id="k35-3" transform="translate(215 1347)"><ellipse class="nc" rx="17" ry="21"/><use href="#kF"/></g>
<g id="k35-4" transform="translate(291 1347)"><ellipse class="ne" rx="17" ry="21"/><use href="#wF"/></g>
<g id="k35-5" transform="translate(367 1347)"><ellipse class="ne" rx="17" ry="21"/><use href="#wF"/></g>
<g id="k36-1" transform="translate(101 1385)"><ellipse class="na" rx="17" ry="21"/><use href="#wF"/></g>
<g id="k36-2" transform="translate(177 1385)"><ellipse class="nc" rx="17" ry="21"/><use href="#kF"/></g>
<g id="k36-3" transform="translate(253 1385)"><ellipse class="nc" rx="17" ry="21"/><use href="#kF"/></g>
<g id="k36-4" transform="translate(329 1385)"><ellipse class="ne" rx="17" ry="21"/><use href="#wF"/></g>
<g id="k37-1" transform="translate(63 1423)"><ellipse class="na" rx="17" ry="21"/><use href="#wF"/></g>
<g id="k37-2" transform="translate(139 1423)"><ellipse class="na" rx="17" ry="21"/><use href="#wF"/></g>
<g id="k37-3" transform="translate(215 1423)"><ellipse class="nc" rx="17" ry="21"/><use href="#kF"/></g>
<g id="k37-4" transform="translate(291 1423)"><ellipse class="nc" rx="17" ry="21"/><use href="#kF"/></g>
<g id="k37-5" transform="translate(367 1423)"><ellipse class="ne" rx="17" ry="21"/><use href="#wF"/></g>
<g id="k38-1" transform="translate(101 1461)"><ellipse class="na" rx="17" ry="21"/><use href="#wX"/></g>
<g id="k38-2" transform="translate(177 1461)"><ellipse class="na" rx="17" ry="21"/><use href="#wX"/></g>
<g id="k38-3" transform="translate(253 1461)"><ellipse class="nc" rx="17" ry="21"/><use href="#kX"/></g>
<g id="k38-4" transform="translate(329 1461)"><ellipse class="nc" rx="17" ry="21"/><use href="#kX"/></g>
<g id="k39-1" transform="translate(63 1499)"><ellipse class="na" rx="17" ry="21"/><use href="#wB"/></g>
<g id="k39-2" transform="translate(139 1499)"><ellipse class="na" rx="17" ry="21"/><use href="#wB"/></g>
<g id="k39-3" transform="translate(215 1499)"><ellipse class="nc" rx="17" ry="21"/><use href="#kB"/></g>
<g id="k39-4" transform="translate(291 1499)"><ellipse class="nc" rx="17" ry="21"/><use href="#kB"/></g>
<g id="k39-5" transform="translate(367 1499)"><ellipse class="ne" rx="17" ry="21"/><use href="#wB"/></g>
<g id="k40-1" transform="translate(101 1537)"><ellipse class="na" rx="17" ry="21"/><use href="#wY"/></g>
<g id="k40-2" transform="translate(177 1537)"><ellipse class="nc" rx="17" ry="21"/><use href="#kY"/></g>
<g id="k40-3" transform="translate(253 1537)"><ellipse class="nc" rx="17" ry="21"/><use href="#kY"/></g>
<g id="k40-4" transform="translate(329 1537)"><ellipse class="ne" rx="17" ry="21"/><use href="#wY"/></g>
</g>
<text id="watermark" x="215" y="800" text-anchor="middle" textLength="155" lengthAdjust="spacingAndGlyphs" font-family="'Liberation Sans',Arial,sans-serif" font-weight="bold" font-size="15" fill="#3c3c3c" stroke="#ffffff" stroke-opacity="0.6" stroke-width="2" paint-order="stroke">BRACELETBOOK.COM</text>
</svg>
